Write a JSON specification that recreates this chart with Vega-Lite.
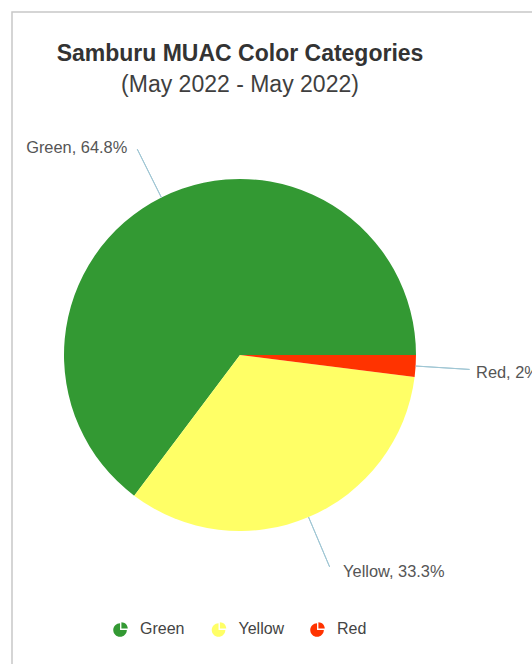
{
  "$schema": "https://vega.github.io/schema/vega-lite/v6.json",
  "autosize": "none",
  "width": 540,
  "height": 686,
  "padding": {"left": 12, "top": 12, "right": 0, "bottom": 0},
  "background": "white",
  "view": {"stroke": "#c8c8c8", "strokeWidth": 1.5, "fill": "white"},
  "title": {
    "text": "Samburu MUAC Color Categories",
    "subtitle": "(May 2022 - May 2022)",
    "anchor": "middle",
    "frame": "group",
    "dx": -42,
    "offset": -85,
    "font": "Liberation Sans",
    "fontSize": 23,
    "fontWeight": "bold",
    "color": "#333333",
    "subtitleFont": "Liberation Sans",
    "subtitleFontSize": 23,
    "subtitleColor": "#3f3f3f",
    "subtitlePadding": 8
  },
  "data": {
    "values": [
      {"category": "Green", "share": 64.8, "label": "Green, 64.8%"},
      {"category": "Yellow", "share": 33.3, "label": "Yellow, 33.3%"},
      {"category": "Red", "share": 2, "label": "Red, 2%"}
    ]
  },
  "transform": [
    {"stack": "share", "groupby": [], "sort": [{"field": "share", "order": "ascending"}], "offset": "normalize", "as": ["s0", "s1"]},
    {"calculate": "(datum.s0 + datum.s1) / 2", "as": "mid"}
  ],
  "layer": [
    {
      "mark": {"type": "arc", "xOffset": -42, "stroke": null},
      "encoding": {
        "theta": {"field": "s0", "type": "quantitative", "stack": null, "scale": {"domain": [0, 1], "range": [1.5707963, 7.8539816]}},
        "theta2": {"field": "s1"},
        "radius": {"value": 176},
        "color": {
          "field": "category",
          "type": "nominal",
          "sort": ["Green", "Yellow", "Red"],
          "scale": {"domain": ["Green", "Yellow", "Red"], "range": ["#339933", "#ffff66", "#ff3300"]},
          "legend": {
            "title": null,
            "orient": "none",
            "direction": "horizontal",
            "legendX": 101,
            "legendY": 609,
            "symbolType": "M-0.12,0.12L-0.12,-0.73A0.85,0.85,0,1,0,0.73,0.12Z M0.05,-0.05L0.85,-0.05A0.8,0.8,0,0,0,0.05,-0.85Z",
            "symbolSize": 256,
            "symbolStrokeWidth": 0,
            "labelFont": "Liberation Sans",
            "labelFontSize": 16,
            "labelColor": "#444444",
            "labelOffset": 11,
            "columnPadding": 25.5,
            "gridAlign": "all"
          }
        }
      }
    },
    {
      "mark": {"type": "arc", "xOffset": -42, "filled": false, "stroke": "#9fc6d4", "strokeWidth": 1},
      "encoding": {
        "theta": {"field": "mid", "type": "quantitative", "stack": null},
        "theta2": {"field": "mid"},
        "radius": {"value": 230},
        "radius2": {"value": 176}
      }
    },
    {
      "transform": [{"filter": "datum.category == 'Green'"}],
      "mark": {"type": "text", "xOffset": -42, "align": "right", "baseline": "middle", "dx": -10, "dy": -1, "font": "Liberation Sans", "fontSize": 16.4, "color": "#555555"},
      "encoding": {
        "theta": {"field": "mid", "type": "quantitative", "stack": null},
        "radius": {"value": 230},
        "text": {"field": "label"}
      }
    },
    {
      "transform": [{"filter": "datum.category == 'Yellow'"}],
      "mark": {"type": "text", "xOffset": -42, "align": "left", "baseline": "middle", "dx": 13.5, "dy": 5, "font": "Liberation Sans", "fontSize": 16.4, "color": "#555555"},
      "encoding": {
        "theta": {"field": "mid", "type": "quantitative", "stack": null},
        "radius": {"value": 230},
        "text": {"field": "label"}
      }
    },
    {
      "transform": [{"filter": "datum.category == 'Red'"}],
      "mark": {"type": "text", "xOffset": -42, "align": "left", "baseline": "middle", "dx": 6.5, "dy": 4, "font": "Liberation Sans", "fontSize": 16.4, "color": "#555555"},
      "encoding": {
        "theta": {"field": "mid", "type": "quantitative", "stack": null},
        "radius": {"value": 230},
        "text": {"field": "label"}
      }
    }
  ],
  "config": {
    "font": "Liberation Sans"
  }
}
